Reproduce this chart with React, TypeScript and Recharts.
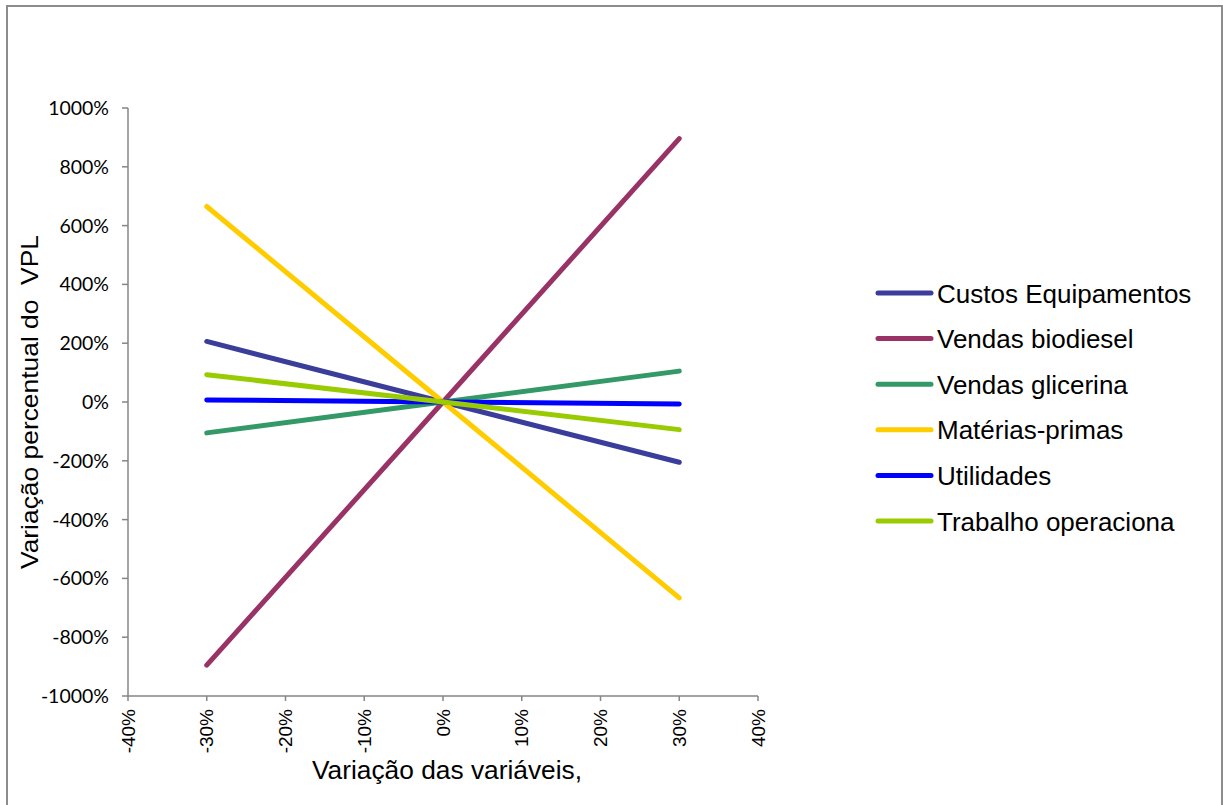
import React from 'react';
import { LineChart, Line, XAxis, YAxis } from 'recharts';

// Sensitivity of NPV (VPL) to each input variable
const variation = [-30, 0, 30];
const custosEquipamentos = [206, 0, -205];
const vendasBiodiesel = [-895, 0, 896];
const vendasGlicerina = [-105, 0, 105];
const materiasPrimas = [665, 0, -666];
const utilidades = [7, 0, -7];
const trabalhoOperacional = [93, 0, -94];

const xTicks = [-40, -30, -20, -10, 0, 10, 20, 30, 40];
const yTicks = [-1000, -800, -600, -400, -200, 0, 200, 400, 600, 800, 1000];

const series = [
  { key: 'custos', name: 'Custos Equipamentos', color: '#3a3d9a', values: custosEquipamentos },
  { key: 'biodiesel', name: 'Vendas biodiesel', color: '#993366', values: vendasBiodiesel },
  { key: 'glicerina', name: 'Vendas glicerina', color: '#339966', values: vendasGlicerina },
  { key: 'materias', name: 'Matérias-primas', color: '#ffcc00', values: materiasPrimas },
  { key: 'utilidades', name: 'Utilidades', color: '#0000ff', values: utilidades },
  { key: 'trabalho', name: 'Trabalho operaciona', color: '#99cc00', values: trabalhoOperacional },
];

const data = variation.map((x, i) => {
  const row: Record<string, number> = { x };
  series.forEach((s) => {
    row[s.key] = s.values[i];
  });
  return row;
});

const AXIS_GRAY = '#868686';
const ARIAL = "'Liberation Sans', Arial, sans-serif";

const XTick = (props: any) => {
  const { x, y, payload } = props;
  return (
    <text
      x={0}
      y={0}
      transform={`translate(${x + 6.5},${y + 6}) rotate(-90)`}
      textAnchor="end"
      fontFamily={ARIAL}
      fontSize={19}
      fill="#000"
    >
      {`${payload.value}%`}
    </text>
  );
};

// Legend drawn as a separate overlay on the right of the plot
const LEGEND_X = 878;
const LEGEND_Y0 = 293;
const LEGEND_STEP = 45.6;

const LegendOverlay = () => (
  <svg
    width={1223}
    height={805}
    style={{ position: 'absolute', left: 0, top: 0, pointerEvents: 'none' }}
  >
    {series.map((s, i) => {
      const y = LEGEND_Y0 + i * LEGEND_STEP;
      return (
        <g key={s.key}>
          <line
            x1={LEGEND_X}
            y1={y}
            x2={LEGEND_X + 53}
            y2={y}
            stroke={s.color}
            strokeWidth={5}
            strokeLinecap="round"
          />
          <text x={LEGEND_X + 59} y={y + 9.5} fontFamily={ARIAL} fontSize={26} fill="#000">
            {s.name}
          </text>
        </g>
      );
    })}
  </svg>
);

export default function App() {
  return (
    <div
      style={{
        position: 'absolute',
        left: 0,
        top: 0,
        width: 1223,
        height: 805,
        background: '#fff',
        overflow: 'hidden',
      }}
    >
      <div
        style={{
          position: 'absolute',
          left: 6,
          top: 5,
          width: 1217,
          height: 820,
          border: '2px solid #8c8c8c',
          boxSizing: 'border-box',
        }}
      />
      <div style={{ position: 'absolute', left: 0, top: 0 }}>
        <LineChart
          width={1223}
          height={805}
          data={data}
          margin={{ top: 108, right: 465, bottom: 49, left: 0 }}
        >
          <XAxis
            dataKey="x"
            type="number"
            domain={[-40, 40]}
            ticks={xTicks}
            interval={0}
            height={60}
            axisLine={{ stroke: AXIS_GRAY, strokeWidth: 1.5 }}
            tickLine={{ stroke: AXIS_GRAY, strokeWidth: 1.5 }}
            tickSize={5}
            tick={<XTick />}
          />
          <YAxis
            type="number"
            domain={[-1000, 1000]}
            ticks={yTicks}
            interval={0}
            width={128}
            axisLine={{ stroke: AXIS_GRAY, strokeWidth: 1.5 }}
            tickLine={{ stroke: AXIS_GRAY, strokeWidth: 1.5 }}
            tickSize={6}
            tickMargin={13}
            tickFormatter={(v: number) => `${v}%`}
            tick={{ fontFamily: "Lato, 'Open Sans', sans-serif", fontSize: 19.5, fill: '#000' }}
          />
          {series.map((s) => (
            <Line
              key={s.key}
              dataKey={s.key}
              name={s.name}
              stroke={s.color}
              strokeWidth={5}
              strokeLinecap="round"
              dot={false}
              activeDot={false}
              isAnimationActive={false}
            />
          ))}
          <text
            x={447}
            y={779}
            textAnchor="middle"
            fontFamily={ARIAL}
            fontSize={25}
            textLength={270}
            lengthAdjust="spacingAndGlyphs"
            fill="#000"
          >
            Variação das variáveis,
          </text>
          <text
            x={0}
            y={0}
            transform="translate(38,402) rotate(-90)"
            textAnchor="middle"
            fontFamily={ARIAL}
            fontSize={24}
            textLength={334}
            lengthAdjust="spacingAndGlyphs"
            fill="#000"
            style={{ whiteSpace: 'pre' }}
          >
            {'Variação percentual do  VPL'}
          </text>
        </LineChart>
      </div>
      <LegendOverlay />
    </div>
  );
}
